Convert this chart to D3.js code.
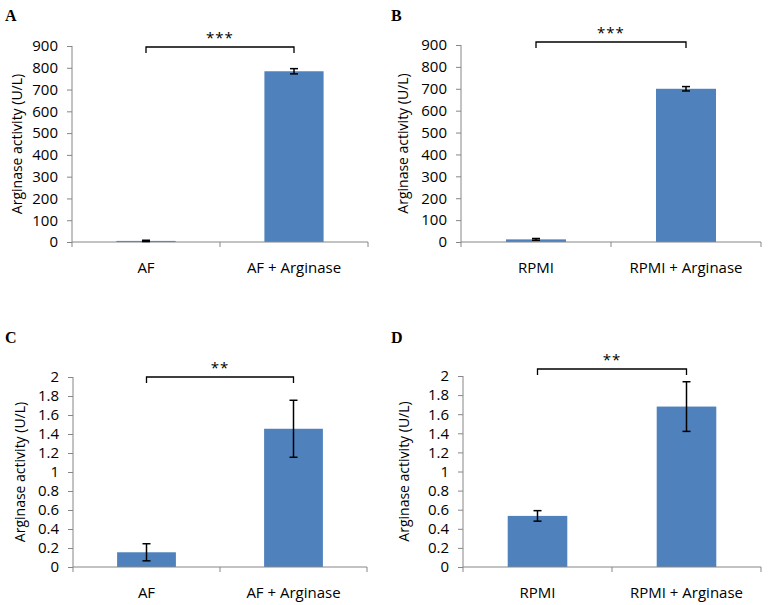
<!DOCTYPE html>
<html>
<head>
<meta charset="utf-8">
<script src="https://cdn.jsdelivr.net/npm/d3@7"></script>
<style>
  body { margin: 0; background: #fff; }
  svg text { font-family: "Open Sans", "Liberation Sans", sans-serif; fill: #000; }
</style>
</head>
<body>
<div id="chart"></div>
<script>
// data
var panelLetters = ["A", "B", "C", "D"];
var catsAF = ["AF", "AF + Arginase"];
var catsRPMI = ["RPMI", "RPMI + Arginase"];
var valuesA = [5, 784], errorsA = [3, 12];
var valuesB = [12, 700], errorsB = [4, 10];
var valuesC = [0.155, 1.455], errorsC = [0.09, 0.3];
var valuesD = [0.535, 1.68], errorsD = [0.055, 0.26];
var ticksBig = [0, 100, 200, 300, 400, 500, 600, 700, 800, 900];
var ticksSmall = [0, 0.2, 0.4, 0.6, 0.8, 1, 1.2, 1.4, 1.6, 1.8, 2];
var stars = ["***", "***", "**", "**"];
var yTitle = "Arginase activity (U/L)";

var W = 768, H = 605;
var barColor = "#4f81bd", axisColor = "#868686";

var svg = d3.select("#chart").append("svg")
    .attr("width", W)
    .attr("height", H);

// panel boxes: left edge of y axis, right end of x axis, top (max tick) and bottom (zero)
var panels = [
  {letter: panelLetters[0], cats: catsAF,   vals: valuesA, errs: errorsA, ticks: ticksBig,   max: 900, x0: 72,  x1: 368, y0: 46,  y1: 242, lx: 5,   ly: 21,  tx: 17,  bracketY: 47,  sig: stars[0]},
  {letter: panelLetters[1], cats: catsRPMI, vals: valuesB, errs: errorsB, ticks: ticksBig,   max: 900, x0: 461, x1: 761, y0: 45,  y1: 242, lx: 391, ly: 21,  tx: 403, bracketY: 42,  sig: stars[1]},
  {letter: panelLetters[2], cats: catsAF,   vals: valuesC, errs: errorsC, ticks: ticksSmall, max: 2,   x0: 73,  x1: 367, y0: 377, y1: 567, lx: 5,   ly: 343, tx: 20,  bracketY: 377, sig: stars[2]},
  {letter: panelLetters[3], cats: catsRPMI, vals: valuesD, errs: errorsD, ticks: ticksSmall, max: 2,   x0: 463, x1: 761, y0: 376, y1: 567, lx: 391, ly: 343, tx: 404, bracketY: 369, sig: stars[3]}
];

panels.forEach(function(p) {
  var g = svg.append("g");

  var x = d3.scaleBand()
      .domain(p.cats)
      .range([p.x0, p.x1])
      .paddingInner(0)
      .paddingOuter(0);

  var y = d3.scaleLinear()
      .domain([0, p.max])
      .range([p.y1, p.y0]);

  var barW = x.bandwidth() * 0.4;

  // bars
  g.selectAll("rect.bar")
      .data(p.vals)
      .enter().append("rect")
      .attr("class", "bar")
      .attr("x", function(d, i) { return x(p.cats[i]) + x.bandwidth() / 2 - barW / 2; })
      .attr("y", function(d) { return y(d); })
      .attr("width", barW)
      .attr("height", function(d) { return y(0) - y(d); })
      .style("fill", barColor);

  // y axis
  var yAxis = d3.axisLeft(y)
      .tickValues(p.ticks)
      .tickSize(5)
      .tickPadding(9)
      .tickFormat(function(d) { return String(d); });

  var ya = g.append("g")
      .attr("transform", "translate(" + p.x0 + ",0)")
      .call(yAxis);
  ya.select(".domain").attr("stroke", axisColor).attr("d", "M0," + p.y0 + "V" + p.y1);
  ya.selectAll(".tick line").attr("stroke", axisColor);
  ya.selectAll(".tick text").style("font-size", "15px").style("font-family", "'Open Sans', sans-serif");

  // x axis line with ticks at band edges
  g.append("line")
      .attr("x1", p.x0).attr("x2", p.x1)
      .attr("y1", y(0)).attr("y2", y(0))
      .attr("stroke", axisColor);

  var edges = p.cats.map(function(c) { return x(c); }).concat([p.x1]);
  g.selectAll("line.xtick")
      .data(edges)
      .enter().append("line")
      .attr("class", "xtick")
      .attr("x1", function(d) { return d; }).attr("x2", function(d) { return d; })
      .attr("y1", y(0)).attr("y2", y(0) + 5)
      .attr("stroke", axisColor);

  g.selectAll("text.cat")
      .data(p.cats)
      .enter().append("text")
      .attr("class", "cat")
      .attr("x", function(d) { return x(d) + x.bandwidth() / 2; })
      .attr("y", y(0) + 31)
      .attr("text-anchor", "middle")
      .style("font-size", "15px")
      .text(function(d) { return d; });

  // error bars
  var eb = g.selectAll("g.err")
      .data(p.vals)
      .enter().append("g")
      .attr("class", "err")
      .attr("transform", function(d, i) { return "translate(" + (x(p.cats[i]) + x.bandwidth() / 2) + ",0)"; });

  eb.append("line")
      .attr("y1", function(d, i) { return y(d + p.errs[i]); })
      .attr("y2", function(d, i) { return y(Math.max(0, d - p.errs[i])); })
      .attr("stroke", "#000").attr("stroke-width", 1.5);
  eb.append("line")
      .attr("x1", -4).attr("x2", 4)
      .attr("y1", function(d, i) { return y(d + p.errs[i]); })
      .attr("y2", function(d, i) { return y(d + p.errs[i]); })
      .attr("stroke", "#000").attr("stroke-width", 1.5);
  eb.append("line")
      .attr("x1", -4).attr("x2", 4)
      .attr("y1", function(d, i) { return y(Math.max(0, d - p.errs[i])); })
      .attr("y2", function(d, i) { return y(Math.max(0, d - p.errs[i])); })
      .attr("stroke", "#000").attr("stroke-width", 1.5);

  // significance bracket
  var bx0 = x(p.cats[0]) + x.bandwidth() / 2, bx1 = x(p.cats[1]) + x.bandwidth() / 2;
  g.append("path")
      .attr("d", "M" + bx0 + "," + (p.bracketY + 6) + "V" + p.bracketY + "H" + bx1 + "V" + (p.bracketY + 6))
      .attr("fill", "none")
      .attr("stroke", "#000")
      .attr("stroke-width", 1.3);
  g.append("text")
      .attr("x", (bx0 + bx1) / 2)
      .attr("y", p.bracketY - 4)
      .attr("text-anchor", "middle")
      .style("font-size", "15px")
      .style("letter-spacing", "1px")
      .text(p.sig);

  // y title
  g.append("text")
      .attr("transform", "translate(" + p.tx + "," + ((p.y0 + p.y1) / 2) + ") rotate(-90)")
      .attr("dy", "0.35em")
      .attr("text-anchor", "middle")
      .style("font-size", "14px")
      .text(yTitle);

  // panel letter
  g.append("text")
      .attr("x", p.lx)
      .attr("y", p.ly)
      .style("font-family", "'Liberation Serif', serif")
      .style("font-weight", "bold")
      .style("font-size", "16px")
      .text(p.letter);
});
</script>
</body>
</html>
